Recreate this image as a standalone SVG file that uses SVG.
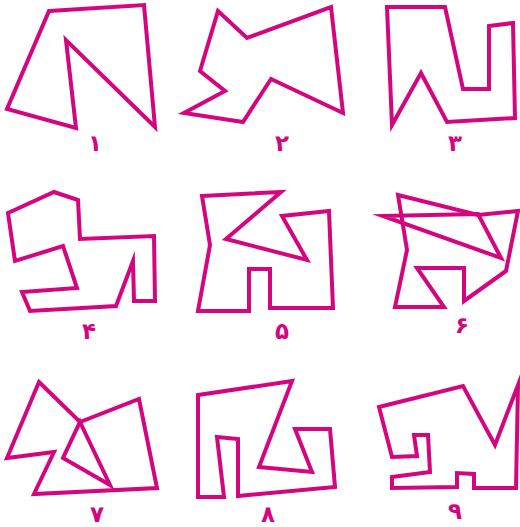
<svg xmlns="http://www.w3.org/2000/svg" width="520" height="527" viewBox="0 0 520 527">
<style>
.s{fill:none;stroke:#d4067f;stroke-width:4;stroke-linejoin:miter;stroke-miterlimit:10}
.t{fill:#d4067f;font-family:"DejaVu Sans",sans-serif;font-size:23px;font-weight:bold;text-anchor:middle}
</style>
<rect width="520" height="527" fill="#fff"/>
<g id="shape1">
<polygon class="s" points="49,11 144,5 155,127 66,40 76,128 7,109"/>
<text class="t" x="95" y="151">۱</text>
</g>
<g id="shape2">
<polygon class="s" points="218,11 247,38 331,7 343,113 271,79 243,122 184,113 225,91 200,71"/>
<text class="t" x="282" y="151">۲</text>
</g>
<g id="shape3">
<polygon class="s" points="387,7 445,7 463,89 489,89 489,26 513,23 515,118 447,122 421,73 392,125"/>
<text class="t" x="455" y="151">۳</text>
</g>
<g id="shape4">
<polygon class="s" points="8,213 54,192 78,200 80,239 154,236 155,301 134,301 133,261 116,306 30,311 22,292 77,288 63,246 15,261"/>
<text class="t" x="89" y="339">۴</text>
</g>
<g id="shape5">
<polygon class="s" points="202,196 281,192 226,239 307,260 282,216 329,211 333,308 270,308 270,269 249,269 249,311 198,311 210,245"/>
<text class="t" x="282" y="339">۵</text>
</g>
<g id="shape6">
<polygon class="s" points="398,195 478,215 518,211 506,271 464,301 464,268 417,268 444,307 395,307 407,250"/>
<polygon class="s" points="383,216 478,214 501,258"/>
<text class="t" x="462" y="333">۶</text>
</g>
<g id="shape7">
<polygon class="s" points="39,382 80,422 139,399 157,488 34,494 54,452 7,458"/>
<polygon class="s" points="80,422 110,485 63,458"/>
<text class="t" x="97" y="522">۷</text>
</g>
<g id="shape8">
<polygon class="s" points="198,395 292,381 259,467 312,472 295,429 330,429 335,487 238,496 238,439 217,437 224,497 198,497"/>
<text class="t" x="268" y="522">۸</text>
</g>
<g id="shape9">
<polygon class="s" points="379,407 463,386 495,445 518,385 516,488 474,488 474,474 457,473 457,487 392,488 392,477 430,472 428,435 414,435 417,456 392,457"/>
<text class="t" x="455" y="519">۹</text>
</g>
</svg>
